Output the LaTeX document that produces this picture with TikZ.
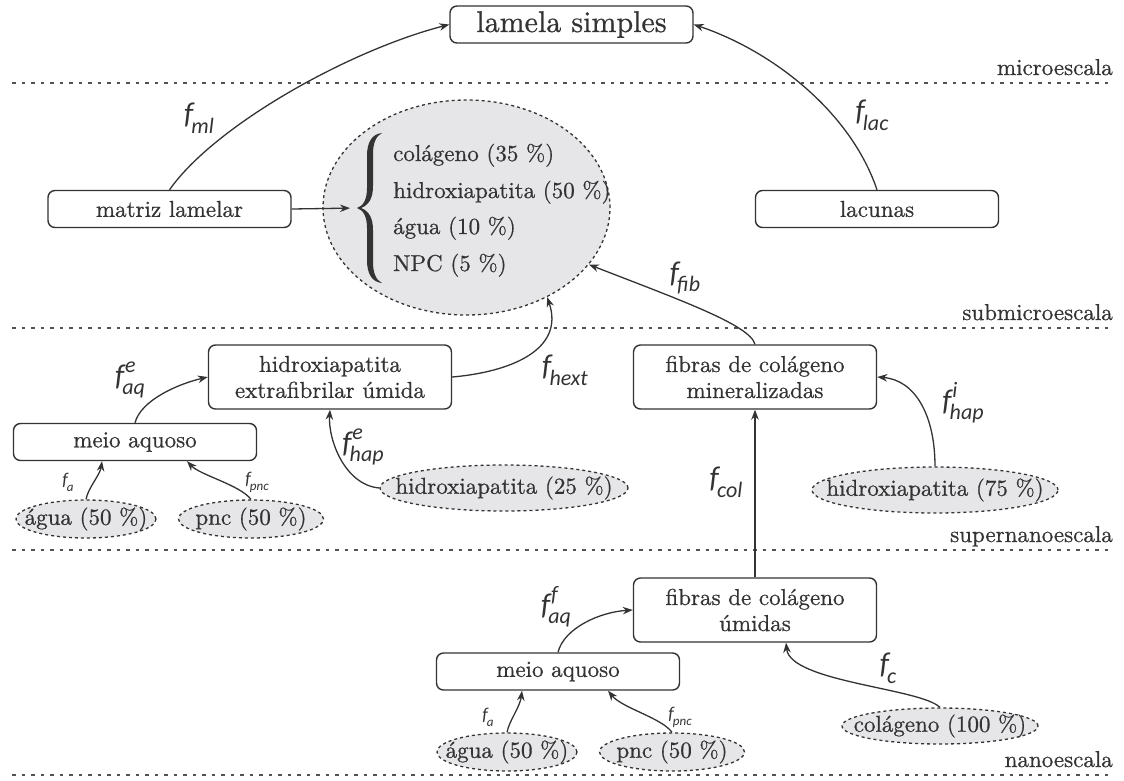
\documentclass[tikz,border=0pt]{standalone}
\usepackage{fontspec}
\setmainfont{lmroman10-regular.otf}[FakeBold=0.7]
\usetikzlibrary{arrows.meta,shapes.geometric}

\newfontfamily\labfont{Carlito}
\definecolor{ink}{HTML}{333333}
\definecolor{phase}{HTML}{E6E6E8}

\newcommand\txt{\fontsize{23}{26}\selectfont}
\newcommand\bigtxt{\fontsize{30}{34}\selectfont}

% homogenisation factor f with subscript (#1) and superscript (#2)
\newcommand\fbig[2]{{\labfont\itshape\fontsize{30}{30}\selectfont f%
  \rlap{\kern0.03em\raisebox{0.42em}{\fontsize{22}{22}\selectfont #2}}%
  \kern-0.06em\raisebox{-0.32em}{\fontsize{22}{22}\selectfont #1}}}
\newcommand\fsmall[1]{{\labfont\itshape\fontsize{18}{18}\selectfont f%
  \kern-0.05em\raisebox{-0.32em}{\fontsize{13}{13}\selectfont #1}}}

\tikzset{
  box/.style={draw=ink, line width=1.4pt, rounded corners=7pt,
    minimum width=243pt, minimum height=37pt, inner sep=0pt,
    align=center, font=\txt, text=ink},
  tallbox/.style={box, minimum height=64pt},
  comp/.style={ellipse, draw=ink, line width=1.3pt,
    dash pattern=on 3pt off 3pt, fill=phase, inner sep=0pt,
    font=\txt, text=ink},
  link/.style={draw=ink, line width=1.3pt,
    -{Stealth[length=10pt,width=7.5pt]}},
  scaleline/.style={draw=ink!85, line width=1.3pt, dash pattern=on 3.5pt off 6pt},
  scalename/.style={anchor=base east, inner sep=0pt, font=\txt, text=ink},
  flab/.style={inner sep=0pt, text=ink},
  item/.style={anchor=base west, inner sep=0pt, font=\txt, text=ink},
}

\begin{document}
\begin{tikzpicture}[x=1pt, y=-1pt]
\useasboundingbox (0,0) rectangle (1124,780);

% scale separators
\draw[scaleline] (12,83) -- (1110,83);
\draw[scaleline] (12,328) -- (1110,328);
\draw[scaleline] (12,550) -- (1110,550);
\draw[scaleline] (12,775) -- (1110,775);
\node[scalename] (micro) at (1113,75) {microescala};
\node[scalename] (submicro) at (1113,320) {submicroescala};
\node[scalename] (supernano) at (1113,542) {supernanoescala};
\node[scalename] (nano) at (1113,767) {nanoescala};

% microscale
\node[box, font=\bigtxt] (lam) at (571.5,24.5) {lamela simples};
\node[box] (mat) at (169.5,209) {matriz lamelar};
\node[box] (lac) at (877,209) {lacunas};

% submicroscale mixture
\node[comp, minimum width=287pt, minimum height=215pt] (mix) at (466.5,207.5) {};
\coordinate (brace) at (357,208);
\fill[ink] (382,133) .. controls (372,134) and (367,142) .. (367,156)
  -- (367,188) .. controls (367,200) and (363,206) .. (brace)
  .. controls (363,210) and (367,216) .. (367,228)
  -- (367,260) .. controls (367,274) and (372,282) .. (382,283)
  .. controls (376,280) and (373,273) .. (373,262)
  -- (373,230) .. controls (373,218) and (369,211) .. (361,208)
  .. controls (369,205) and (373,198) .. (373,186)
  -- (373,154) .. controls (373,143) and (376,136) .. (382,133) -- cycle;
\node[item] (i1) at (393,161) {colágeno (35~\%)};
\node[item] (i2) at (393,198) {hidroxiapatita (50~\%)};
\node[item] (i3) at (393,234) {água (10~\%)};
\node[item] (i4) at (393,271) {NPC (5~\%)};

% supernanoscale
\node[tallbox] (ext) at (330,377) {hidroxiapatita\\extrafibrilar úmida};
\node[tallbox] (mine) at (755,377) {fibras de colágeno\\mineralizadas};
\node[box] (aq1) at (135,442) {meio aquoso};
\node[comp, minimum width=140pt, minimum height=38pt] (w1) at (86,519) {\makebox[0pt]{água (50~\%)}};
\node[comp, minimum width=145pt, minimum height=38pt] (p1) at (251,519) {\makebox[0pt]{pnc (50~\%)}};
\node[comp, minimum width=248pt, minimum height=46pt] (h25) at (504,488) {\makebox[0pt]{hidroxiapatita (25~\%)}};
\node[comp, minimum width=246pt, minimum height=46pt] (h75) at (935,490) {\makebox[0pt]{hidroxiapatita (75~\%)}};

% nanoscale
\node[tallbox] (wet) at (755,610) {fibras de colágeno\\úmidas};
\node[box] (aq2) at (558,671.5) {meio aquoso};
\node[comp, minimum width=140pt, minimum height=38pt] (w2) at (507,752) {\makebox[0pt]{água (50~\%)}};
\node[comp, minimum width=145pt, minimum height=38pt] (p2) at (672,752) {\makebox[0pt]{pnc (50~\%)}};
\node[comp, minimum width=196pt, minimum height=36pt] (col) at (940,726) {\makebox[0pt]{colágeno (100~\%)}};

% connectors
\draw[link] (mat.north) .. controls (215,125) and (350,50) .. (lam.west);
\draw[link] (lac.north) .. controls (850,110) and (770,50) .. (lam.east);
\draw[link, shorten >=7pt] (mat.east) -- (brace);
\draw[link] (mine.north) .. controls (750,325) and (680,300) .. (mix.335);
\draw[link] (ext.east) .. controls (510,372) and (565,350) .. (mix.312);

\draw[link] (aq1.north) .. controls (141,400) and (178,384) .. (ext.west);
\draw[link] (w1.north) .. controls (88,488) and (100,475) .. ([xshift=-33pt]aq1.south);
\draw[link] (p1.north) .. controls (240,485) and (200,475) .. ([xshift=52pt]aq1.south);
\draw[link] (h25.west) .. controls (345,485) and (328,440) .. (ext.south);
\draw[link] (h75.north) .. controls (935,415) and (915,380) .. (mine.east);
\draw[link] (wet.north) -- (mine.south);

\draw[link] (aq2.north) .. controls (564,628) and (600,612) .. (wet.west);
\draw[link] (col.north) .. controls (920,688) and (790,682) .. ([xshift=31pt]wet.south);
\draw[link] (w2.north) .. controls (509,721) and (520,707) .. ([xshift=-36pt]aq2.south);
\draw[link] (p2.north) .. controls (662,718) and (622,708) .. ([xshift=50pt]aq2.south);

% factor labels
\node[flab] (lml) at (199,118) {\fbig{ml}{}};
\node[flab] (llac) at (872,115) {\fbig{lac}{}};
\node[flab] (lfib) at (685,278) {\fbig{fib}{}};
\node[flab] (lhext) at (565,370) {\fbig{hext}{}};
\node[flab] (laqe) at (130,380) {\fbig{aq}{e}};
\node[flab] (la1) at (68,482) {\fsmall{a}};
\node[flab] (lpnc1) at (257,482) {\fsmall{pnc}};
\node[flab] (lhape) at (363,447) {\fbig{hap}{e}};
\node[flab] (lhapi) at (963,403) {\fbig{hap}{i}};
\node[flab] (lcol) at (726,482) {\fbig{col}{}};
\node[flab] (laqf) at (556,607) {\fbig{aq}{f}};
\node[flab] (lc) at (888,668) {\fbig{c}{}};
\node[flab] (la2) at (488,717) {\fsmall{a}};
\node[flab] (lpnc2) at (680,717) {\fsmall{pnc}};
\end{tikzpicture}
\end{document}
